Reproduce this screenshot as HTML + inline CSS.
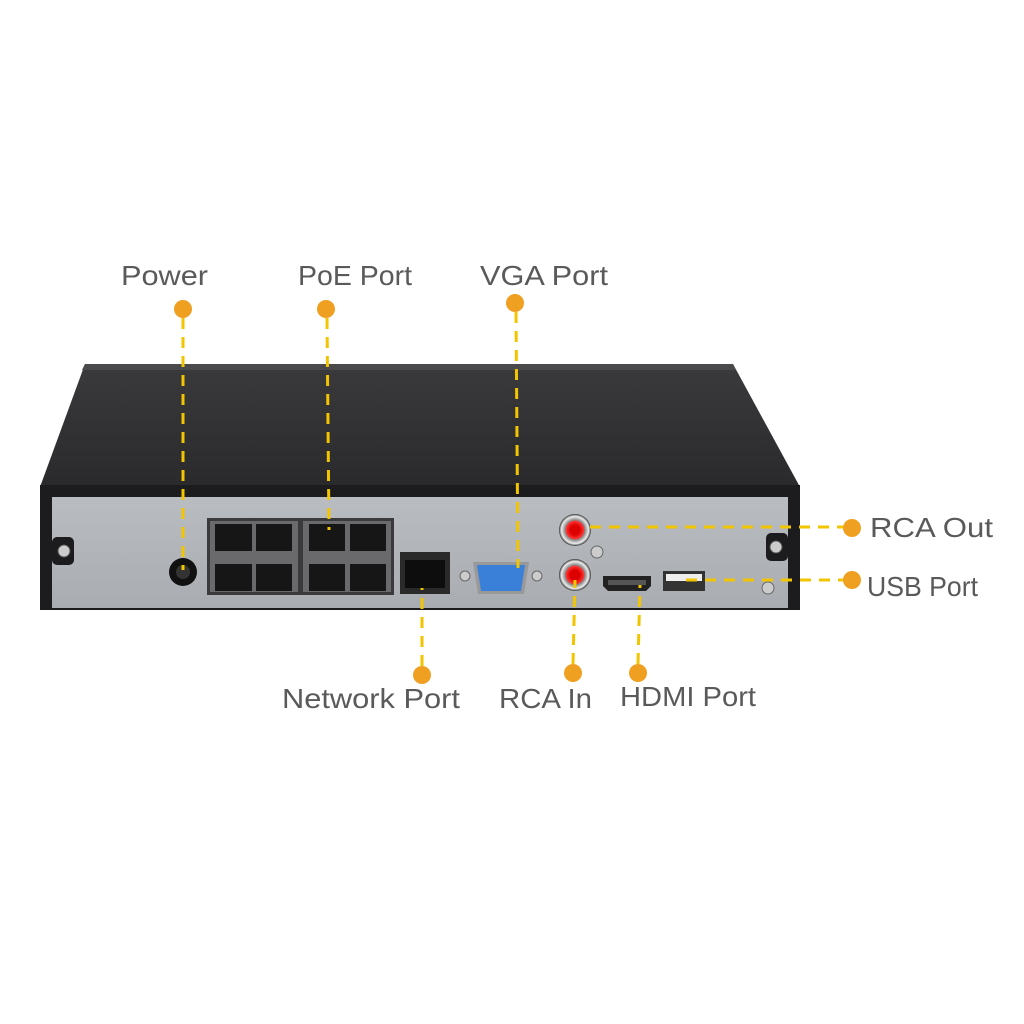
<!DOCTYPE html>
<html><head><meta charset="utf-8"><style>
html,body{margin:0;padding:0;background:#fff;}
svg{display:block}
text{font-family:"Liberation Sans","DejaVu Sans",sans-serif;fill:#5a5a5a;font-size:28px;}
</style></head><body>
<svg width="1024" height="1024" viewBox="0 0 1024 1024" xmlns="http://www.w3.org/2000/svg">
<defs>
<linearGradient id="top" x1="0" y1="0" x2="0" y2="1">
<stop offset="0" stop-color="#3a3a3c"/><stop offset="1" stop-color="#2a2a2c"/></linearGradient>
<linearGradient id="silver" x1="0" y1="0" x2="0" y2="1">
<stop offset="0" stop-color="#b9bdc1"/><stop offset="1" stop-color="#a9adb2"/></linearGradient>
<radialGradient id="rca"><stop offset="0.3" stop-color="#d00"/><stop offset="0.55" stop-color="#f33"/><stop offset="0.62" stop-color="#888"/><stop offset="0.85" stop-color="#eee"/><stop offset="1" stop-color="#333"/></radialGradient>
</defs>
<polygon points="85,364 733,364 800,487 40,487" fill="url(#top)"/>
<polygon points="85,364 733,364 736,370 82,370" fill="#4a4a4c"/>
<rect x="40" y="485" width="760" height="125" fill="#1c1c1e"/>
<rect x="52" y="497" width="736" height="111" fill="url(#silver)"/>
<rect x="52" y="537" width="22" height="28" rx="5" fill="#1c1c1e"/>
<circle cx="64" cy="551" r="6" fill="#ccc" stroke="#555"/>
<rect x="766" y="533" width="22" height="28" rx="5" fill="#1c1c1e"/>
<circle cx="776" cy="547" r="6" fill="#ccc" stroke="#555"/>
<circle cx="768" cy="588" r="6" fill="#ccc" stroke="#666"/>
<circle cx="597" cy="552" r="6" fill="#ccc" stroke="#666"/>
<circle cx="183" cy="572" r="14" fill="#111"/>
<circle cx="183" cy="572" r="7" fill="#333"/>
<rect x="207" y="518" width="187" height="77" fill="#3a3a3c"/>
<rect x="210" y="521" width="88" height="71" fill="#6a6a6c"/>
<rect x="303" y="521" width="88" height="71" fill="#6a6a6c"/>
<g fill="#161616">
<rect x="215" y="524" width="37" height="27"/><rect x="256" y="524" width="36" height="27"/>
<rect x="309" y="524" width="36" height="27"/><rect x="350" y="524" width="36" height="27"/>
<rect x="215" y="564" width="37" height="27"/><rect x="256" y="564" width="36" height="27"/>
<rect x="309" y="564" width="36" height="27"/><rect x="350" y="564" width="36" height="27"/>
</g>
<rect x="400" y="552" width="50" height="42" fill="#2a2a2a"/>
<rect x="405" y="560" width="40" height="28" fill="#0d0d0d"/>
<circle cx="465" cy="576" r="5" fill="#ccc" stroke="#666"/>
<circle cx="537" cy="576" r="5" fill="#ccc" stroke="#666"/>
<path d="M473,562 H529 L524,594 H478 Z" fill="#999"/>
<path d="M477,565 H525 L521,591 H481 Z" fill="#3a7fd8"/>
<circle cx="575" cy="530" r="16" fill="url(#rca)"/>
<circle cx="575" cy="575" r="16" fill="url(#rca)"/>
<path d="M603,576 H651 V586 L646,591 H608 L603,586 Z" fill="#222"/>
<rect x="608" y="580" width="38" height="5" fill="#555"/>
<rect x="663" y="571" width="42" height="20" fill="#333"/>
<rect x="666" y="574" width="36" height="7" fill="#eee"/>
<g stroke="#f2c500" stroke-width="3" stroke-dasharray="11,8" fill="none">
<line x1="183" y1="318" x2="183" y2="570"/>
<line x1="327" y1="318" x2="329" y2="530"/>
<line x1="516" y1="312" x2="518" y2="568"/>
<line x1="422" y1="666" x2="422" y2="588"/>
<line x1="573" y1="664" x2="575" y2="580"/>
<line x1="638" y1="664" x2="640" y2="585"/>
<line x1="590" y1="527" x2="846" y2="527"/>
<line x1="686" y1="580" x2="846" y2="580"/>
</g>
<g fill="#f0a020">
<circle cx="183" cy="309" r="9"/><circle cx="326" cy="309" r="9"/><circle cx="515" cy="303" r="9"/>
<circle cx="422" cy="675" r="9"/><circle cx="573" cy="673" r="9"/><circle cx="638" cy="673" r="9"/>
<circle cx="852" cy="528" r="9"/><circle cx="852" cy="580" r="9"/>
</g>
<text x="121" y="285" textLength="87" lengthAdjust="spacingAndGlyphs">Power</text>
<text x="298" y="285" textLength="114" lengthAdjust="spacingAndGlyphs">PoE Port</text>
<text x="480" y="285" textLength="128" lengthAdjust="spacingAndGlyphs">VGA Port</text>
<text x="870" y="537" textLength="123" lengthAdjust="spacingAndGlyphs">RCA Out</text>
<text x="867" y="596" textLength="111" lengthAdjust="spacingAndGlyphs">USB Port</text>
<text x="282" y="708" textLength="178" lengthAdjust="spacingAndGlyphs">Network Port</text>
<text x="499" y="708" textLength="93" lengthAdjust="spacingAndGlyphs">RCA In</text>
<text x="620" y="706" textLength="136" lengthAdjust="spacingAndGlyphs">HDMI Port</text>
</svg>
</body></html>
